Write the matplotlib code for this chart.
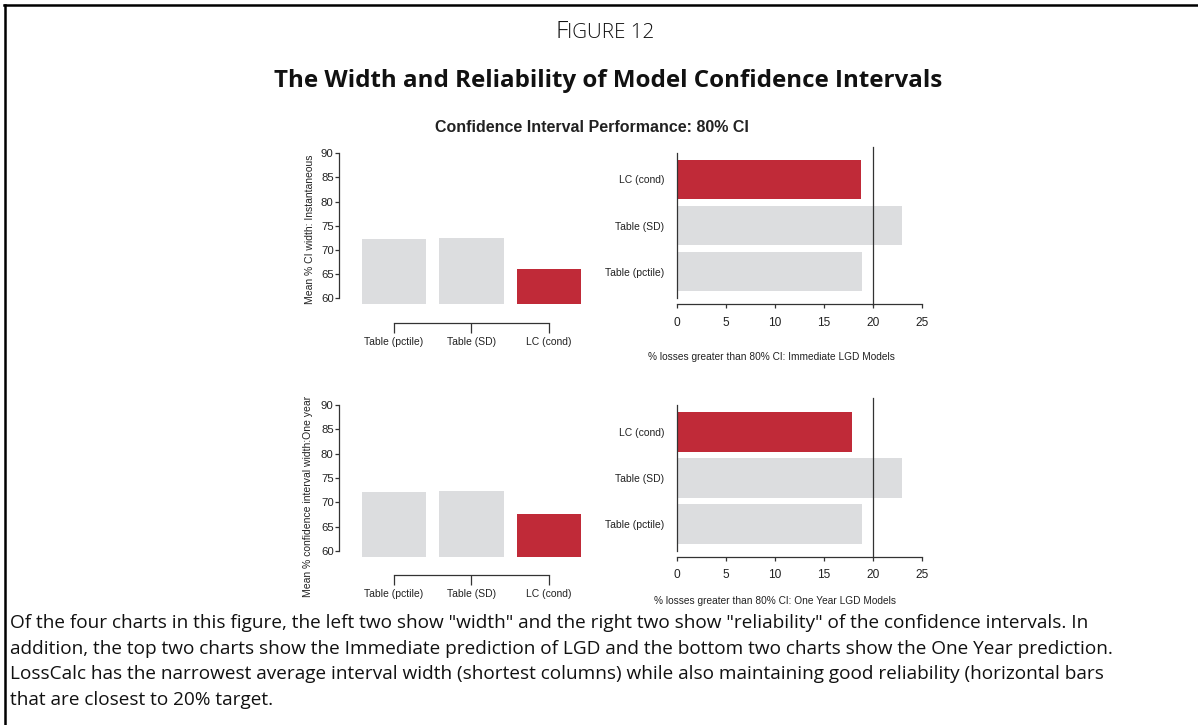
import matplotlib
matplotlib.use("Agg")
from matplotlib import pyplot as plt
from matplotlib import font_manager as fm
from matplotlib.lines import Line2D

# data
models = ['Table (pctile)', 'Table (SD)', 'LC (cond)']
width_instant = [72.2, 72.4, 66.0]
width_oneyear = [72.1, 72.3, 67.5]
exceed_instant = [18.9, 23.0, 18.8]
exceed_oneyear = [18.9, 23.0, 17.9]
target = 20

gray = '#dcdddf'
red = '#c02a38'
axcol = '#333333'
bar_colors = [gray, gray, red]

W, H = 1198, 725
names = {f.name for f in fm.fontManager.ttflist}
narrow = 'Liberation Sans Narrow' if 'Liberation Sans Narrow' in names else 'Liberation Sans'
k = 1.0 if narrow == 'Liberation Sans Narrow' else 0.84
tick_fs = 8.9 * k
fam = [narrow, 'DejaVu Sans']

fig = plt.figure(figsize=(W / 100, H / 100), dpi=100)
fig.patch.set_facecolor('white')


def px_axes(x0, y0, x1, y1):
    # pixel box (top-left origin) -> figure axes
    return fig.add_axes([x0 / W, 1 - y1 / H, (x1 - x0) / W, (y1 - y0) / H])


def width_chart(box, values, ylabel, label_xy, outward):
    ax = px_axes(*box)
    pos = [0.7, 1.9, 3.1]
    ax.bar(pos, values, width=1.0, color=bar_colors, zorder=2)
    ax.set_ylim(58.8, 91.2)
    ax.set_xlim(-0.149, 3.74)
    for s in ['top', 'right']:
        ax.spines[s].set_visible(False)
    ax.spines['left'].set_bounds(60, 90)
    ax.spines['bottom'].set_bounds(pos[0], pos[-1])
    ax.spines['bottom'].set_position(('outward', outward))
    for s in ['left', 'bottom']:
        ax.spines[s].set_color(axcol)
        ax.spines[s].set_linewidth(0.9)
    ax.set_yticks(range(60, 91, 5))
    ax.set_xticks(pos)
    ax.set_xticklabels(models)
    ax.tick_params(axis='y', length=3, width=0.9, color=axcol, pad=1,
                   labelsize=9.8 * k, labelcolor='#222222')
    ax.tick_params(axis='x', length=7, width=0.9, color=axcol, pad=3,
                   labelsize=tick_fs, labelcolor='#222222')
    for t in ax.get_xticklabels() + ax.get_yticklabels():
        t.set_family(fam)
    ax.set_ylabel(ylabel, fontsize=tick_fs, family=fam, color='#222222')
    ax.yaxis.set_label_coords(*label_xy)
    ax.patch.set_visible(False)
    return ax


def reliability_chart(box, values, xlabel, label_xy, outward, line_span):
    ax = px_axes(*box)
    pos = [0, 1, 2]
    ax.barh(pos, values, height=0.86, color=bar_colors, zorder=2)
    ax.set_xlim(0, 25)
    ax.set_ylim(-0.58, 2.58)
    for s in ['top', 'right']:
        ax.spines[s].set_visible(False)
    ax.spines['bottom'].set_bounds(0, 25)
    ax.spines['bottom'].set_position(('outward', outward))
    for s in ['left', 'bottom']:
        ax.spines[s].set_color(axcol)
        ax.spines[s].set_linewidth(0.9)
        ax.spines[s].set_zorder(3)
    ax.axvline(target, ymin=line_span[0], ymax=line_span[1], color=axcol,
               lw=0.9, clip_on=False, zorder=3)
    ax.set_yticks(pos)
    ax.set_yticklabels(models)
    ax.set_xticks(range(0, 26, 5))
    ax.tick_params(axis='y', length=0, pad=9, labelsize=tick_fs, labelcolor='#222222')
    ax.tick_params(axis='x', length=3, width=0.9, color=axcol, pad=6,
                   labelsize=10.2 * k, labelcolor='#222222')
    for t in ax.get_xticklabels() + ax.get_yticklabels():
        t.set_family(fam)
    ax.set_xlabel(xlabel, fontsize=tick_fs * 0.98, family=fam, color='#222222')
    ax.xaxis.set_label_coords(*label_xy)
    ax.patch.set_visible(False)
    return ax


width_chart((339.3, 147.5, 590, 304.1), width_instant,
            'Mean % CI width: Instantaneous', (-0.097, 0.48), 13.4)
width_chart((339.3, 399.2, 590, 556.8), width_oneyear,
            'Mean % confidence interval width:One year', (-0.105, 0.383), 13.1)
reliability_chart((676.7, 152.7, 921.7, 298.3), exceed_instant,
                  '% losses greater than 80% CI: Immediate LGD Models',
                  (0.385, -0.37), 4.3, (-0.046, 1.041))
reliability_chart((677, 405, 921.7, 551), exceed_oneyear,
                  '% losses greater than 80% CI: One Year LGD Models',
                  (0.4, -0.31), 4.1, (-0.039, 1.046))

# header text: small caps "Figure 12"
f1 = fig.text(555 / W, 1 - 32 / H, 'F', fontsize=17.5, family='Open Sans',
              fontweight='light', va='center', ha='left', color='#111111')
fig.canvas.draw()
bb = f1.get_window_extent()
fig.text(bb.x1 / W, 1 - 33.5 / H, 'IGURE 12', fontsize=14.8, family='Open Sans',
         fontweight='light', va='center', ha='left', color='#111111')
fig.text(608 / W, 1 - 81 / H, 'The Width and Reliability of Model Confidence Intervals',
         fontsize=17.4, family='Open Sans', fontweight='bold', ha='center', va='center',
         color='#111111')
fig.text(592 / W, 1 - 127 / H, 'Confidence Interval Performance: 80% CI',
         fontsize=13.7 * k, family=fam, fontweight='bold', ha='center', va='center',
         color='#222222')

caption = [
    'Of the four charts in this figure, the left two show "width" and the right two show "reliability" of the confidence intervals. In',
    'addition, the top two charts show the Immediate prediction of LGD and the bottom two charts show the One Year prediction.',
    'LossCalc has the narrowest average interval width (shortest columns) while also maintaining good reliability (horizontal bars',
    'that are closest to 20% target.',
]
for i, line in enumerate(caption):
    fig.text(10 / W, 1 - (623 + i * 25.7) / H, line, fontsize=13.7, family='Open Sans',
             ha='left', va='center', color='#111111')

# frame (top and left edges)
fig.add_artist(Line2D([4 / W, 1], [1 - 5 / H, 1 - 5 / H], color='black', lw=1.8,
                      transform=fig.transFigure))
fig.add_artist(Line2D([4.5 / W, 4.5 / W], [0, 1 - 5 / H], color='black', lw=1.8,
                      transform=fig.transFigure))

fig.savefig('out.png', dpi=100)
